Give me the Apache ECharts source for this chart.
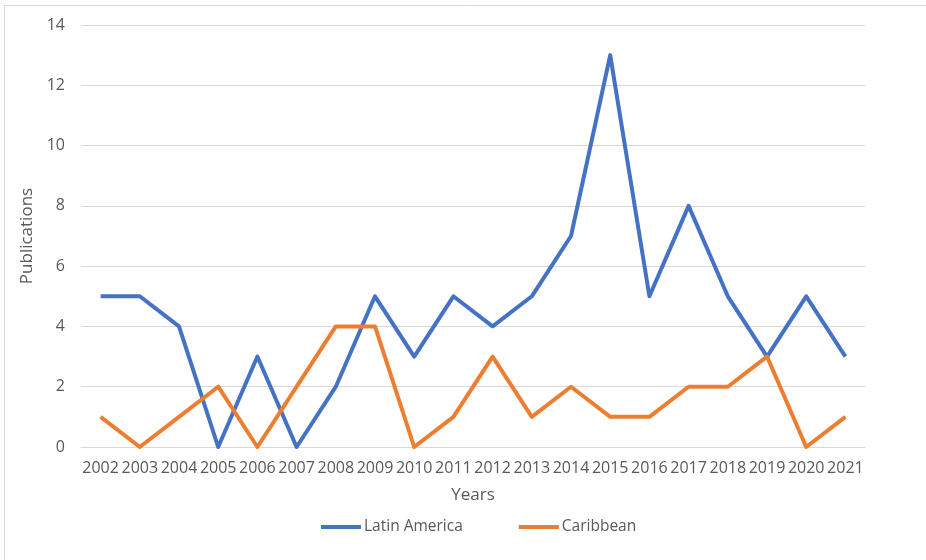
<!DOCTYPE html>
<html>
<head>
<meta charset="utf-8">
<script src="https://cdn.jsdelivr.net/npm/echarts@6/dist/echarts.min.js"></script>
<style>
  html, body { margin: 0; padding: 0; background: #ffffff; }
  #chart { width: 926px; height: 560px; }
</style>
</head>
<body>
<div id="chart"></div>
<script>
// Publications per year, 2002–2021
const years = ['2002','2003','2004','2005','2006','2007','2008','2009','2010','2011',
               '2012','2013','2014','2015','2016','2017','2018','2019','2020','2021'];
const latinAmerica = [5, 5, 4, 0, 3, 0, 2, 5, 3, 5, 4, 5, 7, 13, 5, 8, 5, 3, 5, 3];
const caribbean    = [1, 0, 1, 2, 0, 2, 4, 4, 0, 1, 3, 1, 2, 1, 1, 2, 2, 3, 0, 1];

const FONT = 'Open Sans';
const TEXT = '#595959';

const chart = echarts.init(document.getElementById('chart'), null, { renderer: 'canvas' });
chart.setOption({
  backgroundColor: '#ffffff',
  animation: false,
  textStyle: { fontFamily: FONT },
  graphic: [{
    type: 'rect',
    shape: { x: 4.5, y: 5.5, width: 940, height: 570 },
    style: { fill: 'none', stroke: '#d9d9d9', lineWidth: 1 },
    silent: true
  }],
  grid: { left: 81, right: 61, top: 25, bottom: 113 },
  legend: {
    bottom: 20,
    left: 316,
    itemWidth: 40,
    itemHeight: 4,
    itemGap: 56,
    icon: 'rect',
    textStyle: { color: TEXT, fontSize: 15.5, fontFamily: FONT, padding: [0, 0, 0, -2] },
    data: ['Latin America', 'Caribbean']
  },
  xAxis: {
    type: 'category',
    data: years,
    boundaryGap: true,
    name: 'Years',
    nameLocation: 'middle',
    nameGap: 40,
    nameTextStyle: { color: TEXT, fontSize: 17, fontFamily: FONT },
    axisLine: { show: true, lineStyle: { color: '#d9d9d9', width: 1 } },
    axisTick: { show: false },
    axisLabel: { color: TEXT, fontSize: 16, margin: 13, interval: 0, fontFamily: FONT }
  },
  yAxis: {
    type: 'value',
    min: 0,
    max: 14,
    interval: 2,
    name: 'Publications',
    nameLocation: 'middle',
    nameGap: 43,
    nameTextStyle: { color: TEXT, fontSize: 17, fontFamily: FONT },
    axisLine: { show: false },
    axisTick: { show: false },
    axisLabel: { color: TEXT, fontSize: 16, margin: 16, fontFamily: FONT },
    splitLine: { lineStyle: { color: '#d9d9d9', width: 1 } }
  },
  series: [
    {
      name: 'Latin America',
      type: 'line',
      data: latinAmerica,
      showSymbol: false,
      symbol: 'none',
      lineStyle: { color: '#4472C4', width: 4, join: 'round' },
      itemStyle: { color: '#4472C4' }
    },
    {
      name: 'Caribbean',
      type: 'line',
      data: caribbean,
      showSymbol: false,
      symbol: 'none',
      lineStyle: { color: '#ED7D31', width: 4, join: 'round' },
      itemStyle: { color: '#ED7D31' }
    }
  ]
});
</script>
</body>
</html>
